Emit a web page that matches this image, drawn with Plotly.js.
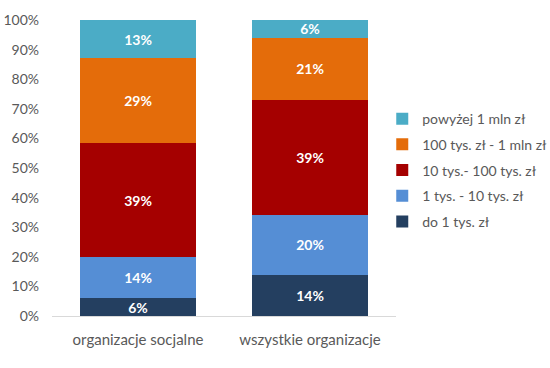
<!DOCTYPE html>
<html>
<head>
<meta charset="utf-8">
<script src="https://cdn.plot.ly/plotly-3.0.1.min.js"></script>
<style>html,body{margin:0;padding:0;background:#fff;}#chart{width:550px;height:368px;}</style>
</head>
<body>
<div id="chart"></div>
<script>
const categories = ["organizacje socjalne", "wszystkie organizacje"];
const seriesNames = ["do 1 tys. zł", "1 tys. - 10 tys. zł", "10 tys.- 100 tys. zł", "100 tys. zł - 1 mln zł", "powyżej 1 mln zł"];
const do1tys = [6, 14];
const od1do10tys = [14, 20];
const od10do100tys = [39, 39];
const od100tysDo1mln = [29, 21];
const powyzej1mln = [13, 6];
const yTickVals = [0, 10, 20, 30, 40, 50, 60, 70, 80, 90, 100];
const yTickText = ["0%", "10%", "20%", "30%", "40%", "50%", "60%", "70%", "80%", "90%", "100%"];

const seriesValues = [do1tys, od1do10tys, od10do100tys, od100tysDo1mln, powyzej1mln];
const colors = ["#243F60", "#558ED5", "#A50000", "#E46C0A", "#4BACC6"];
const font = "Lato, 'Open Sans', sans-serif";

const traces = seriesValues.map((vals, i) => ({
  type: "bar",
  name: seriesNames[i],
  x: categories,
  y: vals,
  text: vals.map(v => v + "%"),
  textposition: "inside",
  insidetextanchor: "middle",
  constraintext: "none",
  textangle: 0,
  textfont: {family: font, size: 14, color: "#ffffff", weight: "bold"},
  marker: {color: colors[i], line: {width: 0}},
  legendgroup: "g" + i,
  legendrank: 1000 - i * 100,
  hoverinfo: "skip"
}));

const layout = {
  width: 550, height: 368,
  margin: {l: 52, r: 154, t: 20, b: 52, autoexpand: false},
  barmode: "stack",
  barnorm: "percent",
  bargap: 0.33,
  paper_bgcolor: "#ffffff",
  plot_bgcolor: "#ffffff",
  font: {family: font, size: 14, color: "#595959"},
  showlegend: true,
  legend: {
    xref: "container", yref: "container",
    x: 0.695, xanchor: "left", y: 0.72, yanchor: "top",
    traceorder: "grouped",
    tracegroupgap: 4.5,
    font: {family: font, size: 14, color: "#595959"},
    itemwidth: 30
  },
  xaxis: {
    showgrid: false, showline: true, linecolor: "#D9D9D9", linewidth: 1,
    ticks: "", ticklabelstandoff: 10,
    tickfont: {family: font, size: 15, color: "#595959"},
    fixedrange: true
  },
  yaxis: {
    range: [0, 100], showgrid: false, zeroline: false, showline: false,
    tickvals: yTickVals, ticktext: yTickText, ticks: "", ticklabelstandoff: 12,
    tickfont: {family: font, size: 14, color: "#595959"},
    fixedrange: true
  }
};

Plotly.newPlot("chart", traces, layout, {displayModeBar: false, staticPlot: true});
</script>
</body>
</html>
